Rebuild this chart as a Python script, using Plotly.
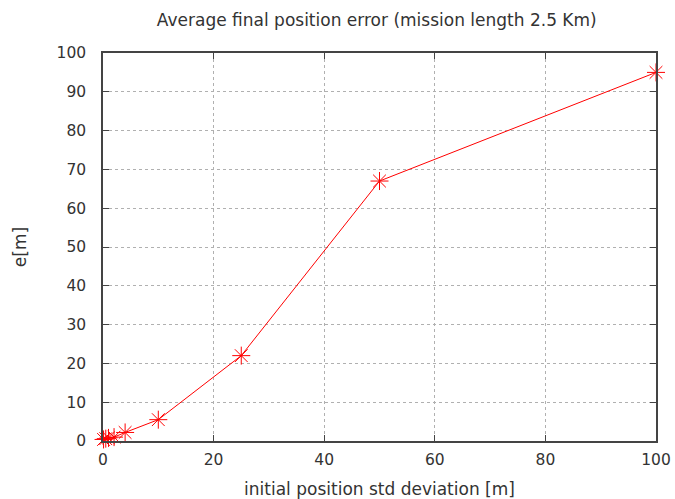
import plotly.graph_objects as go

# initial position standard deviation [m] and resulting mean final error [m]
std_dev = [0.1, 0.5, 1, 2, 4, 10, 25, 50, 100]
error_m = [0.4, 0.6, 0.8, 1.0, 2.2, 5.5, 22, 67, 95]

x_ticks = [0, 20, 40, 60, 80, 100]
y_ticks = [0, 10, 20, 30, 40, 50, 60, 70, 80, 90, 100]

FONT = "DejaVu Sans"
TXT = "#333333"

fig = go.Figure()
fig.add_trace(go.Scatter(
    x=std_dev, y=error_m,
    mode="lines+markers",
    line=dict(color="red", width=1),
    marker=dict(symbol="asterisk-open", size=15, color="red",
                line=dict(color="red", width=1)),
    cliponaxis=False,
    showlegend=False,
))

axis_common = dict(
    showgrid=True, gridcolor="#b0b0b0", griddash="dot", gridwidth=1,
    showline=True, linecolor="#444444", linewidth=1.5, mirror="ticks",
    ticks="inside", ticklen=6, tickcolor="#444444",
    zeroline=False, automargin=False,
    tickfont=dict(family=FONT, size=15.5, color=TXT),
)

fig.update_xaxes(range=[0, 100], tickvals=x_ticks, ticklabelstandoff=4,
                 title=dict(text="initial position std deviation [m]",
                            font=dict(family=FONT, size=17, color=TXT),
                            standoff=18),
                 **axis_common)
fig.update_yaxes(range=[0, 100], tickvals=y_ticks, ticklabelstandoff=12,
                 title=dict(text="e[m]",
                            font=dict(family=FONT, size=17, color=TXT),
                            standoff=26),
                 **axis_common)

fig.update_layout(
    width=675, height=499,
    margin=dict(l=103, r=19, t=53, b=58),
    paper_bgcolor="white", plot_bgcolor="white",
    title=dict(text="Average final position error (mission length 2.5 Km)",
               x=0.5582, xanchor="center", y=0.96, yanchor="middle",
               font=dict(family=FONT, size=17, color=TXT)),
)

fig.write_html("out.html")
